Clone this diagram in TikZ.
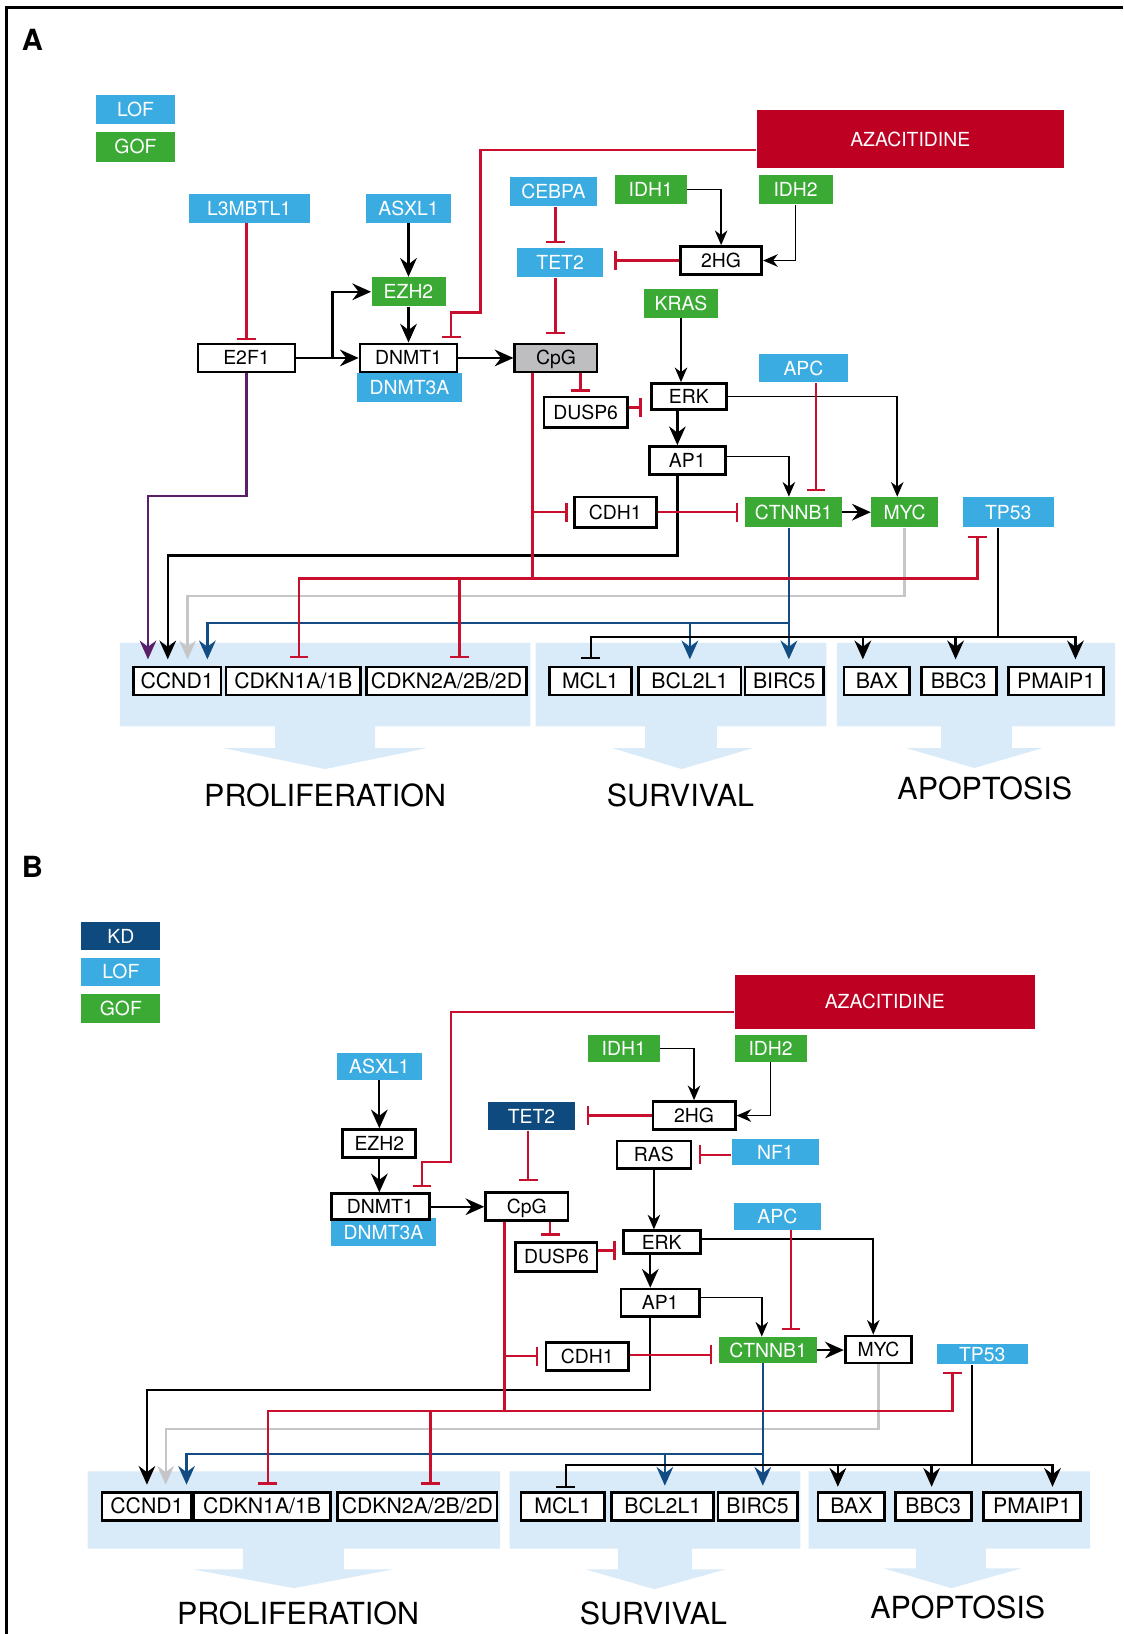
\documentclass[tikz,border=0pt]{standalone}
\usepackage{fontspec}
\setmainfont{TeX Gyre Heros}
\usetikzlibrary{arrows.meta,calc}
\definecolor{lofblue}{HTML}{3BACE2}
\definecolor{gofgreen}{HTML}{3AAA35}
\definecolor{kdblue}{HTML}{0F4A7E}
\definecolor{azared}{HTML}{BE0022}
\definecolor{inhred}{HTML}{C8102E}
\definecolor{e2fpurple}{HTML}{5B1F69}
\definecolor{mycgray}{HTML}{C6C6C8}
\definecolor{ctnblue}{HTML}{124C82}
\definecolor{fatebg}{HTML}{D9EAF8}
\definecolor{cpggray}{HTML}{BEBEC0}
\newcommand{\genefont}{\fontsize{9.3}{10}\selectfont}
\newcommand{\targetfont}{\fontsize{10.2}{11}\selectfont}
\tikzset{gene/.style={
    draw=black, line width=1.3pt, fill=white, inner sep=0pt,
    font=\genefont, text height=6.7pt, text depth=0pt, minimum height=13.5pt},
  target/.style={gene, font=\targetfont, text height=7.3pt},
  lof/.style={fill=lofblue, text=white, inner sep=0pt,
    font=\genefont, text height=6.7pt, text depth=0pt, minimum height=14pt},
  gof/.style={lof, fill=gofgreen},
  kd/.style={lof, fill=kdblue},
  aza/.style={lof, fill=azared},
  fate/.style={font=\fontsize{14.6}{16}\selectfont, inner sep=0pt},
  panel/.style={font=\fontsize{14}{14}\bfseries\selectfont, inner sep=0pt},
  act/.style={draw=black, line width=1.1pt, -{Stealth[length=9pt,width=8pt,inset=3pt]}},
  thinact/.style={draw=black, line width=0.8pt, -{Stealth[length=7pt,width=6pt,inset=2.2pt]}},
  inh/.style={draw=inhred, line width=1.1pt, -{Bar[width=9pt]}}}

\begin{document}
\begin{tikzpicture}[x=0.5pt,y=-0.5pt]
\useasboundingbox (0,0) rectangle (1078,1568);
\path[draw=black, line width=1.3pt] (1078,7) -- (6,7) -- (6,1568);

% panel A
\node[panel] (panelA) at (31,38) {A};
\node[lof, minimum width=38pt] (lofA) at (130,105) {LOF};
\node[gof, minimum width=38pt] (gofA) at (130,141) {GOF};

\path[fill=fatebg] (115,617) -- (509,617) -- (509,697) -- (360,697) -- (360,718) -- (409,718)
  -- (312,738) -- (215,718) -- (264,718) -- (264,697) -- (115,697) -- cycle;
\path[fill=fatebg] (514,617) -- (793,617) -- (793,697) -- (688,697) -- (688,718) -- (722,718)
  -- (654,738) -- (588,718) -- (619,718) -- (619,697) -- (514,697) -- cycle;
\path[fill=fatebg] (803,617) -- (1070,617) -- (1070,697) -- (971,697) -- (971,718) -- (1000,718)
  -- (935,737) -- (870,718) -- (903,718) -- (903,697) -- (803,697) -- cycle;
\node[fate] (prolifA) at (312,763) {PROLIFERATION};
\node[fate] (survA) at (653,763) {SURVIVAL};
\node[fate] (apopA) at (945,757) {APOPTOSIS};

\node[aza, minimum width=147.5pt, minimum height=27.5pt] (azaA) at (873.5,133.5) {AZACITIDINE};
\node[lof, minimum width=58pt] (l3mbtl1) at (239,200) {L3MBTL1};
\node[lof, minimum width=41pt] (asxl1A) at (392,200) {ASXL1};
\node[lof, minimum width=42pt] (cebpa) at (531,184) {CEBPA};
\node[gof, minimum width=34.5pt] (idh1A) at (624.5,182) {IDH1};
\node[gof, minimum width=35.5pt] (idh2A) at (763.5,182) {IDH2};
\node[gof, minimum width=35.5pt] (ezh2A) at (392,280) {EZH2};
\node[lof, minimum width=41.5pt] (tet2A) at (537.5,252) {TET2};
\node[gene, minimum width=39pt] (hg2A) at (692,250) {2HG};
\node[gof, minimum width=35.5pt] (kras) at (653.5,291) {KRAS};
\node[lof, minimum width=50pt] (dnmt3aA) at (393,372) {DNMT3A};
\node[gene, minimum width=46.5pt] (e2f1) at (236.5,343.5) {E2F1};
\node[gene, minimum width=46.5pt] (dnmt1A) at (392,343.5) {DNMT1};
\node[gene, fill=cpggray, minimum width=39.5pt] (cpgA) at (533.5,343.5) {CpG};
\node[gene, minimum width=40pt, minimum height=14.5pt] (dusp6A) at (562,395.5) {DUSP6};
\node[gene, minimum width=36pt, minimum height=12.5pt] (erkA) at (661,380.5) {ERK};
\node[lof, minimum width=43pt, minimum height=13.5pt] (apcA) at (771,353.5) {APC};
\node[gene, minimum width=36.5pt] (ap1A) at (659.5,442) {AP1};
\node[gene, minimum width=39.5pt, minimum height=14.5pt] (cdh1A) at (590.5,491.5) {CDH1};
\node[gof, minimum width=46.5pt, minimum height=14.5pt] (ctnnb1A) at (761.5,491.5) {CTNNB1};
\node[gof, minimum width=32pt, minimum height=14.5pt] (mycA) at (868,491.5) {MYC};
\node[lof, minimum width=43.5pt, minimum height=14.5pt] (tp53A) at (967.5,491.5) {TP53};

\node[target, minimum width=42pt] (ccnd1A) at (170,653.5) {CCND1};
\node[target, minimum width=64.5pt] (cdkn1A) at (281.5,653.5) {CDKN1A/1B};
\node[target, minimum width=76.5pt] (cdkn2A) at (428.5,653.5) {CDKN2A/2B/2D};
\node[target, minimum width=39.5pt] (mcl1A) at (566.5,653.5) {MCL1};
\node[target, minimum width=49pt] (bcl2l1A) at (662,653.5) {BCL2L1};
\node[target, minimum width=37.5pt] (birc5A) at (752.5,653.5) {BIRC5};
\node[target, minimum width=31.5pt] (baxA) at (841.5,653.5) {BAX};
\node[target, minimum width=36pt] (bbc3A) at (920,653.5) {BBC3};
\node[target, minimum width=45.5pt] (pmaip1A) at (1013.5,653.5) {PMAIP1};

\draw[inh, shorten >=1pt] (l3mbtl1.south -| e2f1.north) -- (e2f1.north);
\draw[act] (asxl1A) -- (ezh2A);
\draw[act] (ezh2A) -- (dnmt1A);
\draw[act] (e2f1) -- (dnmt1A);
\draw[act] (e2f1.east -| 319,0) |- (ezh2A.west);
\draw[act] (dnmt1A) -- (cpgA);
\draw[inh, shorten >=2pt] (azaA.west |- 0,144) -| (461,300) -| (433,0 |- dnmt1A.north);
\draw[inh, shorten >=2pt] (cebpa.south -| 533,0) -- (533,0 |- tet2A.north);
\draw[inh, shorten >=4pt] (tet2A.south -| 533,0) -- (533,0 |- cpgA.north);
\draw[inh, shorten >=5pt] (hg2A.west) -- (hg2A.west -| tet2A.east);
\draw[thinact] (idh1A.east) -| (hg2A.north);
\draw[thinact] (idh2A.south) |- (hg2A.east);
\draw[thinact] (kras.south) -- (kras.south |- erkA.north);
\draw[inh, shorten >=2pt] (cpgA.south -| 557,0) -- (557,0 |- dusp6A.north);
\draw[inh, shorten >=4pt] (dusp6A.east |- 0,391) -- (erkA.west |- 0,391);
\draw[act] (erkA.south -| 650,0) -- (650,0 |- ap1A.north);
\draw[thinact] (erkA.east) -| (861,0 |- mycA.north);
\draw[thinact] (ap1A.east |- 0,438) -| (757,0 |- ctnnb1A.north);
\draw[inh, shorten >=2.5pt] (apcA.south -| 783,0) -- (783,0 |- ctnnb1A.north);
\draw[act] (ctnnb1A) -- (mycA);

\draw[act, e2fpurple, shorten >=3pt] (e2f1.south) |- (142,476) -- (142,0 |- ccnd1A.north);
\draw[act, shorten >=3pt] (ap1A.south -| 650,0) |- (161,533) -- (161,0 |- ccnd1A.north);
\draw[act, mycgray, shorten >=3pt] (mycA.south) |- (180,572) -- (180,0 |- ccnd1A.north);
\draw[act, ctnblue, shorten >=3pt] (ctnnb1A.south -| 757,0) -- (757,0 |- birc5A.north);
\draw[act, ctnblue, shorten >=3pt] (757,598) -| (199,0 |- ccnd1A.north);
\draw[act, ctnblue, shorten >=3pt] (662,598) -- (662,0 |- bcl2l1A.north);

\draw[inh, shorten >=3pt] (cdh1A) -- (ctnnb1A);
\draw[inh, shorten >=4pt] (cpgA.south -| 511,0) |- (938,555) -- (938,0 |- tp53A.south);
\draw[inh, shorten >=3.5pt] (cpgA.south -| 511,0) |- (287,555) -- (287,0 |- cdkn1A.north);
\draw[inh, shorten >=3.5pt] (441,555) -- (441,0 |- cdkn2A.north);
\draw[inh, shorten >=2.5pt] (511,0 |- cdh1A.west) -- (cdh1A.west);

\draw[inh, draw=black, shorten >=3pt] (tp53A.south -| 958,0) |- (567,611) -- (567,0 |- mcl1A.north);
\draw[act, shorten >=3pt] (958,611) -| (1032,0 |- pmaip1A.north);
\draw[act, shorten >=3pt] (828,611) -- (828,0 |- baxA.north);
\draw[act, shorten >=3pt] (917,611) -- (917,0 |- bbc3A.north);

% panel B
\node[panel] (panelB) at (31,832) {B};
\node[kd, minimum width=38pt, minimum height=13.5pt] (kdB) at (116,898.5) {KD};
\node[lof, minimum width=38pt, minimum height=13.5pt] (lofB) at (116,932.5) {LOF};
\node[gof, minimum width=38pt] (gofB) at (116,968) {GOF};

\path[fill=fatebg] (84,1412) -- (480,1412) -- (480,1486) -- (330,1486) -- (330,1506) -- (377,1506)
  -- (282,1524) -- (185,1506) -- (233,1506) -- (233,1486) -- (84,1486) -- cycle;
\path[fill=fatebg] (489,1412) -- (768,1412) -- (768,1486) -- (664,1486) -- (664,1506) -- (696,1506)
  -- (628,1525) -- (562,1506) -- (593,1506) -- (593,1486) -- (489,1486) -- cycle;
\path[fill=fatebg] (776,1412) -- (1046,1412) -- (1046,1486) -- (946,1486) -- (946,1505) -- (980,1505)
  -- (913,1524) -- (848,1505) -- (879,1505) -- (879,1486) -- (776,1486) -- cycle;
\node[fate] (prolifB) at (286,1548) {PROLIFERATION};
\node[fate] (survB) at (627,1548) {SURVIVAL};
\node[fate] (apopB) at (919,1542) {APOPTOSIS};

\node[aza, minimum width=144pt, minimum height=25.5pt] (azaB) at (849,961.5) {AZACITIDINE};
\node[lof, minimum width=41pt, minimum height=13pt] (asxl1B) at (364,1023) {ASXL1};
\node[gene, minimum width=35pt] (ezh2B) at (364,1097.5) {EZH2};
\node[lof, minimum width=50pt, minimum height=13.5pt] (dnmt3aB) at (368,1182.5) {DNMT3A};
\node[gene, minimum width=47pt, minimum height=12.5pt] (dnmt1B) at (365,1158) {DNMT1};
\node[kd, minimum width=41.5pt, minimum height=13.5pt] (tet2B) at (510,1071) {TET2};
\node[gene, minimum width=39.5pt] (cpgB) at (505.5,1158) {CpG};
\node[gof, minimum width=34.5pt, minimum height=13pt] (idh1B) at (598.5,1006) {IDH1};
\node[gof, minimum width=34.5pt, minimum height=13pt] (idh2B) at (739.5,1006) {IDH2};
\node[gene, minimum width=39.5pt] (hg2B) at (666,1070.5) {2HG};
\node[gene, minimum width=35.5pt, minimum height=13pt] (rasB) at (627.5,1108) {RAS};
\node[lof, minimum width=42pt, minimum height=12.5pt] (nf1B) at (744,1105.5) {NF1};
\node[lof, minimum width=42pt, minimum height=13pt] (apcB) at (746,1167) {APC};
\node[gene, minimum width=37pt, minimum height=11pt] (erkB) at (635,1192) {ERK};
\node[gene, minimum width=39pt, minimum height=14pt] (dusp6B) at (534,1206) {DUSP6};
\node[gene, minimum width=37.5pt, minimum height=13pt] (ap1B) at (633.5,1250) {AP1};
\node[gene, minimum width=39.5pt] (cdh1B) at (563.5,1301.5) {CDH1};
\node[gof, minimum width=47pt, minimum height=12.5pt] (ctnnb1B) at (737,1295.5) {CTNNB1};
\node[gene, minimum width=32pt, minimum height=13pt] (mycB) at (843,1295) {MYC};
\node[lof, minimum width=43.5pt, minimum height=9.5pt] (tp53B) at (942.5,1299.5) {TP53};

\node[target, minimum width=43pt] (ccnd1B) at (141,1445.5) {CCND1};
\node[target, minimum width=65.5pt] (cdkn1B) at (251.5,1445.5) {CDKN1A/1B};
\node[target, minimum width=76.5pt] (cdkn2B) at (400.5,1445.5) {CDKN2A/2B/2D};
\node[target, minimum width=40pt] (mcl1B) at (540,1445.5) {MCL1};
\node[target, minimum width=49pt] (bcl2l1B) at (636,1445.5) {BCL2L1};
\node[target, minimum width=38pt] (birc5B) at (727,1445.5) {BIRC5};
\node[target, minimum width=32pt] (baxB) at (817,1445.5) {BAX};
\node[target, minimum width=36.5pt] (bbc3B) at (895.5,1445.5) {BBC3};
\node[target, minimum width=46.5pt] (pmaip1B) at (990.5,1445.5) {PMAIP1};

\draw[act] (asxl1B) -- (ezh2B);
\draw[act] (ezh2B) -- (ezh2B.south |- dnmt1B.north);
\draw[act] (dnmt1B) -- (cpgB);
\draw[inh, shorten >=2.5pt] (azaB.west |- 0,971) -| (433,1115) -| (405,0 |- dnmt1B.north);
\draw[inh, shorten >=5pt] (tet2B.south -| 507,0) -- (507,0 |- cpgB.north);
\draw[inh, shorten >=5.5pt] (hg2B.west) -- (hg2B.west -| tet2B.east);
\draw[thinact] (idh1B.east) -| (hg2B.north);
\draw[thinact] (idh2B.south) |- (hg2B.east);
\draw[inh, shorten >=3pt] (nf1B.west |- rasB.east) -- (rasB.east);
\draw[thinact] (rasB.south) -- (rasB.south |- erkB.north);
\draw[inh, shorten >=2.5pt] (cpgB.south -| 528,0) -- (528,0 |- dusp6B.north);
\draw[inh, shorten >=3pt] (dusp6B.east |- 0,1200) -- (erkB.west |- 0,1200);
\draw[act] (erkB.south -| 624,0) -- (624,0 |- ap1B.north);
\draw[thinact] (erkB.east |- 0,1189) -| (838,0 |- mycB.north);
\draw[thinact] (ap1B.east |- 0,1245) -| (731,0 |- ctnnb1B.north);
\draw[inh, shorten >=3pt] (apcB.south -| 759,0) -- (759,0 |- ctnnb1B.north);
\draw[act] (ctnnb1B) -- (ctnnb1B.east -| mycB.west);

\draw[act, shorten >=3pt] (ap1B.south -| 624,0) |- (141,1334) -- (141,0 |- ccnd1B.north);
\draw[act, mycgray, shorten >=3pt] (mycB.south) |- (159,1371) -- (159,0 |- ccnd1B.north);
\draw[act, ctnblue, shorten >=2.5pt] (ctnnb1B.south -| 732,0) -- (732,0 |- birc5B.north);
\draw[act, ctnblue, shorten >=3pt] (732,1395) -| (179,0 |- ccnd1B.north);
\draw[act, ctnblue, shorten >=2.5pt] (638,1395) -- (638,0 |- bcl2l1B.north);

\draw[inh, shorten >=3pt] (cdh1B.east |- 0,1300) -- (ctnnb1B.west |- 0,1300);
\draw[inh, shorten >=3.5pt] (cpgB.south -| 484,0) |- (914,1354) -- (914,0 |- tp53B.south);
\draw[inh, shorten >=3pt] (cpgB.south -| 484,0) |- (257,1354) -- (257,0 |- cdkn1B.north);
\draw[inh, shorten >=3pt] (413,1354) -- (413,0 |- cdkn2B.north);
\draw[inh, shorten >=3pt] (484,0 |- cdh1B.west) -- (cdh1B.west);

\draw[inh, draw=black, shorten >=1.5pt] (tp53B.south -| 933,0) |- (543,1406) -- (543,0 |- mcl1B.north);
\draw[act, shorten >=2pt] (933,1406) -| (1010,0 |- pmaip1B.north);
\draw[act, shorten >=2pt] (804,1406) -- (804,0 |- baxB.north);
\draw[act, shorten >=2pt] (894,1406) -- (894,0 |- bbc3B.north);
\end{tikzpicture}
\end{document}
